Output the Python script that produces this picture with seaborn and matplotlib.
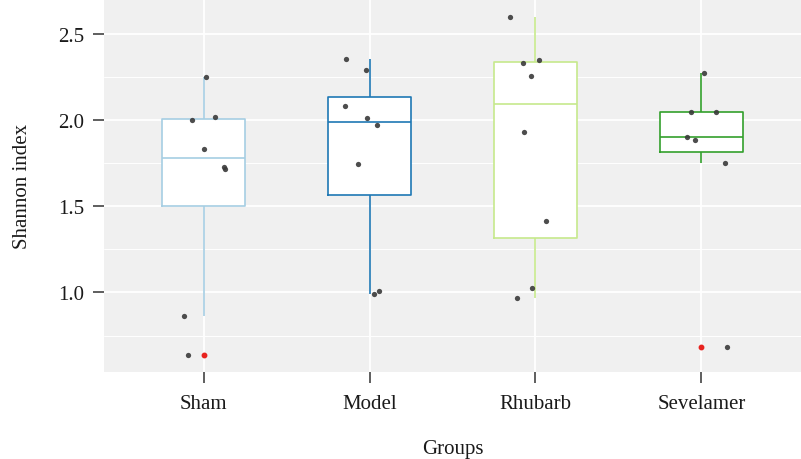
import numpy as np
import pandas as pd
import seaborn as sns
import matplotlib.pyplot as plt
from matplotlib.ticker import MultipleLocator

# values
groups = ['Sham', 'Model', 'Rhubarb', 'Sevelamer']
sham = [2.25, 2.017, 2.00, 1.83, 1.73, 1.717, 0.866, 0.64]
model = [2.353, 2.29, 2.08, 2.012, 1.97, 1.748, 1.009, 0.993]
rhubarb = [2.60, 2.35, 2.33, 2.256, 1.93, 1.415, 1.027, 0.967]
sevelamer = [2.273, 2.05, 2.047, 1.903, 1.884, 1.752, 0.682]
y_ticks = [1.0, 1.5, 2.0, 2.5]

box_colors = ['#a6cee3', '#1f78b4', '#c6e98c', '#33a02c']

df = pd.DataFrame({
    'Group': ['Sham'] * len(sham) + ['Model'] * len(model)
             + ['Rhubarb'] * len(rhubarb) + ['Sevelamer'] * len(sevelamer),
    'Shannon': sham + model + rhubarb + sevelamer,
})

sns.set_theme(style='darkgrid', rc={'axes.facecolor': '#f0f0f0', 'grid.color': 'white'})
plt.rcParams['font.family'] = ['Liberation Serif', 'DejaVu Serif']

fig, ax = plt.subplots(figsize=(8.01, 4.6), dpi=100)
fig.subplots_adjust(left=0.1298, right=1.0, top=1.0, bottom=0.19)

# white faces under the boxes
sns.boxplot(data=df, x='Group', y='Shannon', order=groups, color='white',
            width=0.5, linewidth=0, showfliers=False, showcaps=False, ax=ax)

# coloured outlines, whiskers and medians
sns.boxplot(data=df, x='Group', y='Shannon', order=groups, hue='Group',
            hue_order=groups, palette=box_colors, fill=False, saturation=1,
            width=0.5, linewidth=1.2, showcaps=False, legend=False,
            flierprops=dict(marker='o', markersize=3.2, markerfacecolor='#e8231f',
                            markeredgecolor='#e8231f'),
            ax=ax)

# jittered points
np.random.seed(3)
sns.stripplot(data=df, x='Group', y='Shannon', order=groups, color='#3a3a3a',
              size=3.8, jitter=0.16, alpha=0.9, zorder=4, ax=ax)

ax.set_xlim(-0.6, 3.6)
ax.set_ylim(0.541, 2.703)
ax.set_yticks(y_ticks)
ax.set_yticklabels([f'{t:.1f}' for t in y_ticks])
ax.yaxis.set_minor_locator(MultipleLocator(0.25))
ax.set_axisbelow(True)
ax.grid(True, which='major', color='white', linewidth=1.3)
ax.grid(True, which='minor', axis='y', color='white', linewidth=0.7)

for s in ax.spines.values():
    s.set_visible(False)

ax.tick_params(which='major', left=True, bottom=True, length=8, width=1.1,
               color='#333333', direction='out', labelsize=15, labelcolor='#1a1a1a')
ax.tick_params(axis='y', which='major', pad=6)
ax.tick_params(axis='x', which='major', pad=8)
ax.tick_params(which='minor', length=0)

ax.set_xlabel('Groups', fontsize=15, color='#1a1a1a', labelpad=19)
ax.set_ylabel('Shannon index', fontsize=15, color='#1a1a1a', labelpad=19)

fig.savefig('out.png', dpi=100)
